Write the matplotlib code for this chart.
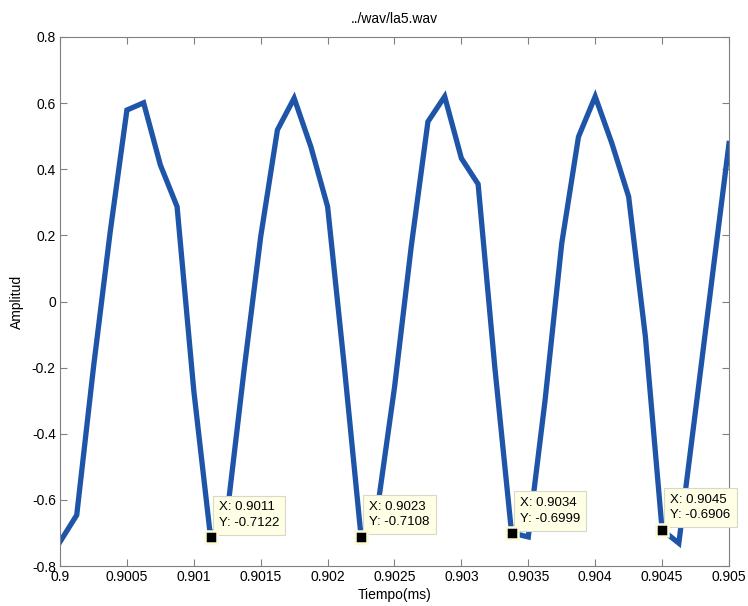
import matplotlib
matplotlib.use("Agg")
import matplotlib.pyplot as plt
import numpy as np

plt.rcParams['font.family'] = ['Liberation Sans', 'DejaVu Sans']
plt.rcParams['axes.unicode_minus'] = False

# muestras (fs = 8000 Hz)
tiempo = [0.9, 0.900125, 0.90025, 0.900375, 0.9005, 0.900625, 0.90075, 0.900875,
          0.901, 0.901125, 0.90125, 0.901375, 0.9015, 0.901625, 0.90175, 0.901875,
          0.902, 0.902125, 0.90225, 0.902375, 0.9025, 0.902625, 0.90275, 0.902875,
          0.903, 0.903125, 0.90325, 0.903375, 0.9035, 0.903625, 0.90375, 0.903875,
          0.904, 0.904125, 0.90425, 0.904375, 0.9045, 0.904625, 0.90475, 0.904875,
          0.905]
amplitud = [-0.727, -0.646, -0.20, 0.21, 0.579, 0.601, 0.413, 0.287,
            -0.27, -0.7122, -0.64, -0.21, 0.196, 0.519, 0.615, 0.468,
            0.287, -0.197, -0.7108, -0.62, -0.26, 0.166, 0.544, 0.62,
            0.433, 0.355, -0.20, -0.6999, -0.712, -0.30, 0.176, 0.498,
            0.62, 0.478, 0.317, -0.106, -0.6906, -0.731, -0.33, 0.075,
            0.478]

# indices de los data tips
tips = [9, 18, 27, 36]
tips_x = ['0.9011', '0.9023', '0.9034', '0.9045']

xticks = [0.9, 0.9005, 0.901, 0.9015, 0.902, 0.9025, 0.903, 0.9035, 0.904, 0.9045, 0.905]
yticks = [-0.8, -0.6, -0.4, -0.2, 0, 0.2, 0.4, 0.6, 0.8]

fig = plt.figure(figsize=(7.48, 6.06), dpi=100)
ax = fig.add_axes([60 / 748, 40 / 606, 669 / 748, 529 / 606])

ax.plot(tiempo, amplitud, color='#1f55a8', lw=3.8, solid_joinstyle='miter', zorder=2)

for i, lab in zip(tips, tips_x):
    x, y = tiempo[i], amplitud[i]
    ax.annotate('X: %s\nY: %.4f' % (lab, y), xy=(x, y), xytext=(6, 6),
                textcoords='offset points', ha='left', va='bottom', fontsize=9.5,
                linespacing=1.35,
                bbox=dict(boxstyle='square,pad=0.45', fc='#ffffe6', ec='#d8d8c8', lw=0.8),
                zorder=4)
    ax.plot(x, y, 's', color='black', ms=8.5, mec='#fbfbd8', mew=1.8, zorder=5)

ax.set_xlim(0.9, 0.905)
ax.set_ylim(-0.8, 0.8)
ax.set_xticks(xticks)
ax.set_xticklabels(['%g' % v for v in xticks])
ax.set_yticks(yticks)
ax.set_yticklabels(['%g' % v for v in yticks])
ax.tick_params(direction='in', length=5, width=0.8, color='#808080',
               top=True, right=True, labelsize=10, pad=3)
for s in ax.spines.values():
    s.set_color('#808080')
    s.set_linewidth(0.8)

ax.set_title('../wav/la5.wav', fontsize=10, pad=10)
ax.set_xlabel('Tiempo(ms)', fontsize=10, labelpad=3)
ax.set_ylabel('Amplitud', fontsize=10, labelpad=6)

fig.savefig('out.png', dpi=100, facecolor='white')
